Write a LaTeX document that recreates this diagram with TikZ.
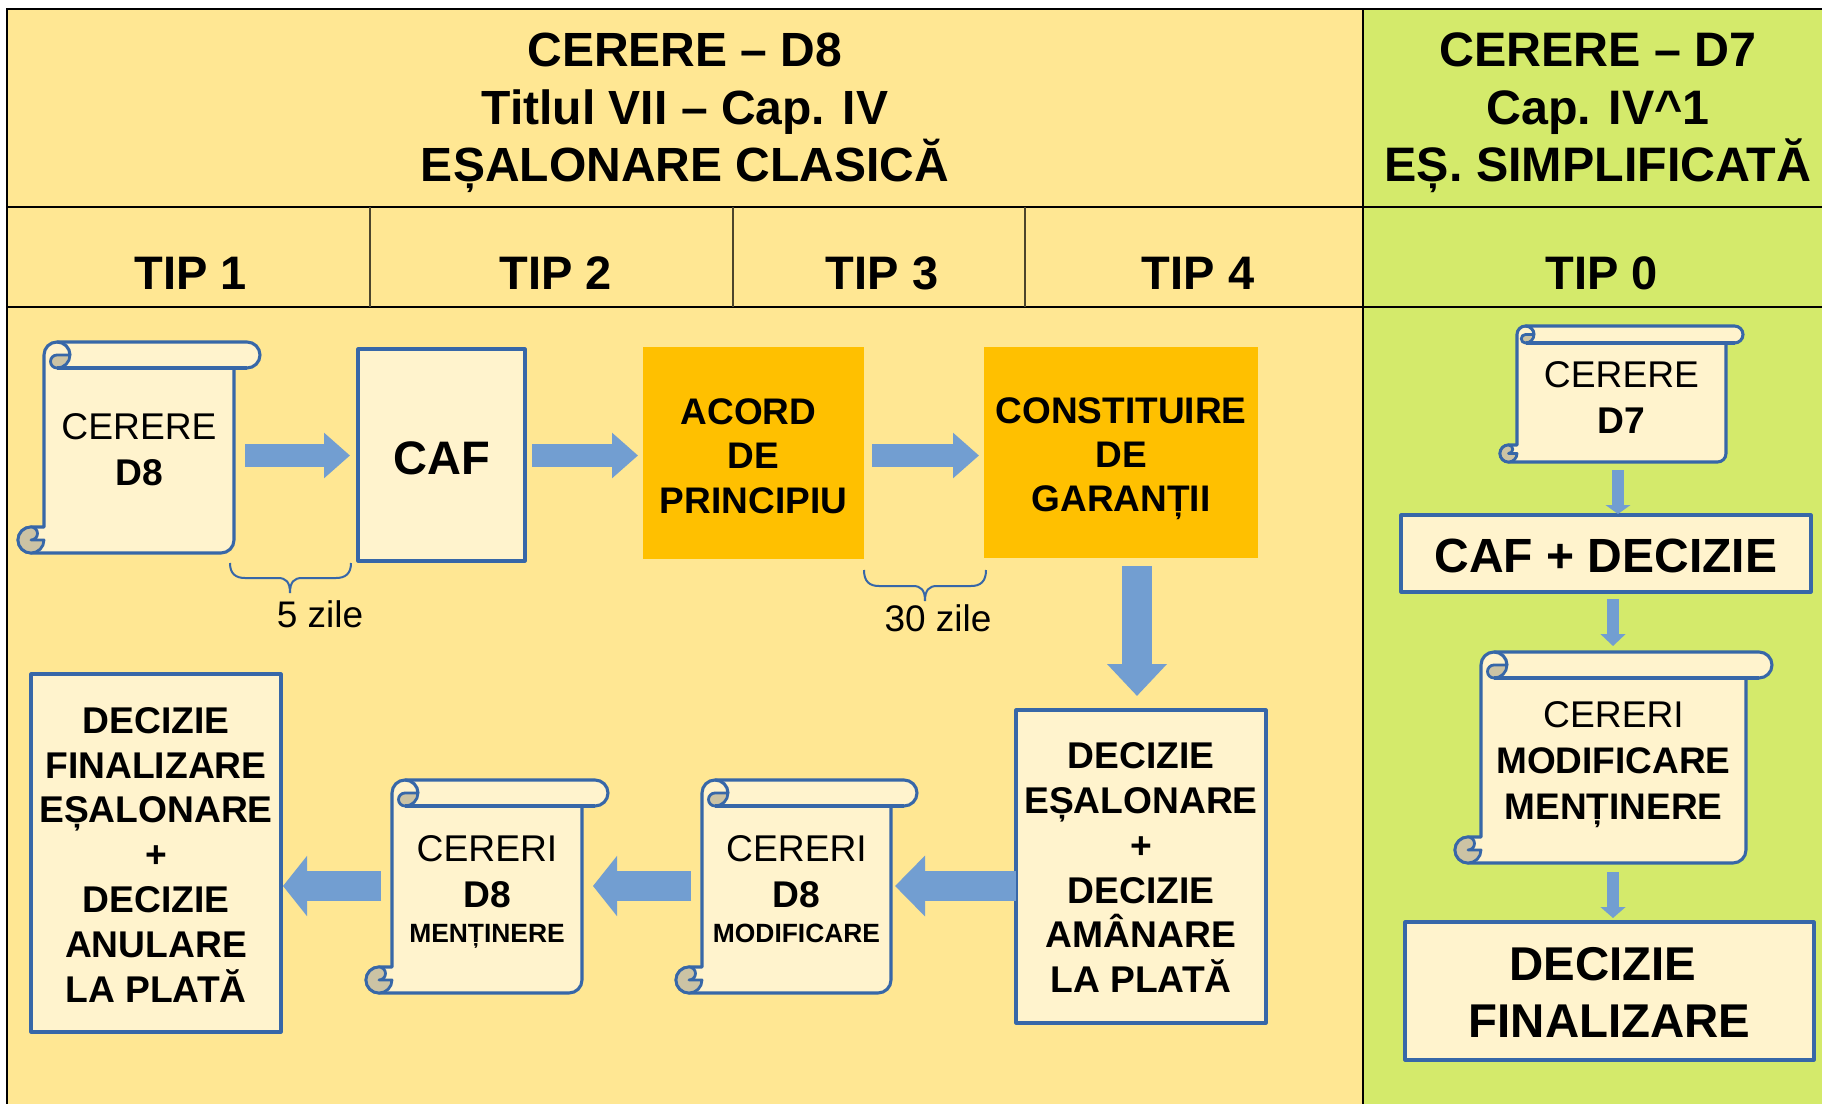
\documentclass[tikz,border=0pt]{standalone}
\usepackage{fontspec}
\setmainfont{Liberation Sans}
\usetikzlibrary{arrows.meta}
\definecolor{yel}{HTML}{FFE793}
\definecolor{grn}{HTML}{D4EA6B}
\definecolor{cream}{HTML}{FFF3CD}
\definecolor{curl}{HTML}{CCC3A4}
\definecolor{boxblue}{HTML}{3767A8}
\definecolor{arrowblue}{HTML}{729ED1}
\definecolor{orng}{HTML}{FFC000}
\tikzset{
  tline/.style={draw=black,line width=.75pt},
  tdiv/.style={draw=black!70!yel,line width=.8pt},
  outl/.style={draw=boxblue,line width=1.55pt,line join=round},
  scrollpart/.style={outl,fill=cream},
  curlpart/.style={outl,line width=1.4pt,fill=curl},
  headtxt/.style={font=\fontsize{24}{28.7}\selectfont\bfseries,align=center,inner sep=0,outer sep=0},
  tiptxt/.style={font=\fontsize{23.5}{29}\selectfont\bfseries,inner sep=0,outer sep=0},
  boxbase/.style={inner sep=0,outer sep=0,align=center,text depth=0pt},
  bluebox/.style={boxbase,outl,fill=cream,font=\fontsize{18.6}{22.4}\selectfont\bfseries},
  orgbox/.style={boxbase,fill=orng,font=\fontsize{18.5}{22.1}\selectfont\bfseries},
  scrolltxt/.style={boxbase,font=\fontsize{18.6}{23}\selectfont},
  zilelabel/.style={font=\fontsize{18.5}{22}\selectfont,inner sep=0},
  brc/.style={draw=boxblue,line width=1pt},
  blockarrow/.style n args={3}{draw=arrowblue,line width=#1,-{Triangle[width=#2,length=#3]}}
}
% extra room above the first line, which moves a centred text down by half of it
\newcommand{\toproom}[1]{\rule{0pt}{\dimexpr.73em+#1\relax}}
\newcommand{\scrollbox}[7]{%
  \pgfmathsetmacro{\sL}{#2}\pgfmathsetmacro{\sT}{#3}\pgfmathsetmacro{\sR}{#4}\pgfmathsetmacro{\sB}{#5}\pgfmathsetmacro{\sr}{#6}%
  \pgfmathsetmacro{\srp}{#6/2}\pgfmathsetmacro{\srq}{#6/4}%
  \path[scrollpart] (\sL,\sT+\sr) arc[start angle=180,end angle=90,radius=\srp pt]
    -- (\sR+\sr,\sT) arc[start angle=90,end angle=-90,radius=\srp pt]
    -- (\sR,\sT+2*\sr) -- (\sR,\sB-\sr) arc[start angle=0,end angle=-90,radius=\srp pt]
    -- (\sL-\sr,\sB) arc[start angle=-90,end angle=-270,radius=\srp pt]
    -- (\sL,\sB-2*\sr) -- cycle;
  \path[curlpart] (\sL-\sr,\sB) arc[start angle=-90,end angle=-270,radius=\srp pt]
    arc[start angle=90,end angle=-90,radius=\srq pt]
    -- (\sL,\sB-\sr) arc[start angle=0,end angle=-90,radius=\srp pt] -- cycle;
  \path[curlpart] (\sL+2*\sr,\sT+\sr) -- (\sL+\sr,\sT+\sr)
    arc[start angle=90,end angle=270,radius=\srq pt]
    arc[start angle=-90,end angle=0,radius=\srp pt] -- cycle;
  \draw[outl] (\sL+\sr,\sT) arc[start angle=90,end angle=0,radius=\srp pt];
  \draw[outl] (\sL+\sr,\sT+2*\sr) -- (\sR+\sr,\sT+2*\sr);
  \pgfmathsetmacro{\sW}{(#4-#2)/2}\pgfmathsetmacro{\sH}{(#5-#3)/2}%
  \node[scrolltxt,minimum width=\sW pt,minimum height=\sH pt] (#1) at ({(#2+#4)/2},{(#3+#5)/2}) {#7};
}
\newcommand{\rectnode}[7]{%
  \pgfmathsetmacro{\sW}{(#4-#2)/2}\pgfmathsetmacro{\sH}{(#5-#3)/2}%
  \node[#6,minimum width=\sW pt,minimum height=\sH pt] (#1) at ({(#2+#4)/2},{(#3+#5)/2}) {#7};
}
\newcommand{\bracepath}[6]{%
  \draw[brc] (#1,#4) .. controls (#1,#5-4) and (#1+6,#5) .. (#1+15,#5) -- (#3-12,#5)
    .. controls (#3-4,#5) and (#3,#5+4) .. (#3,#6)
    .. controls (#3,#5+4) and (#3+4,#5) .. (#3+12,#5) -- (#2-15,#5)
    .. controls (#2-6,#5) and (#2,#5-4) .. (#2,#4);
}
\newcommand{\smallline}[1]{{\fontsize{13.2}{15}\selectfont\bfseries #1}}
\begin{document}
\begin{tikzpicture}[x=.5pt,y=-.5pt]
\useasboundingbox (0,0) rectangle (1822,1104);
% table
\fill[yel] (7,9) rectangle (1363,1104);
\fill[grn] (1363,9) rectangle (1822,1104);
\draw[tline] (1822,9) -- (7,9) -- (7,1104);
\draw[tline] (7,207) -- (1822,207);
\draw[tline] (7,307) -- (1822,307);
\draw[tline] (1363,9) -- (1363,1104);
\draw[tdiv] (370,207) -- (370,307);
\draw[tdiv] (733,207) -- (733,307);
\draw[tdiv] (1025,207) -- (1025,307);
% headers
\node[headtxt] (h8) at (685,113) {CERERE – D8\\Titlul VII – Cap. IV\\EȘALONARE CLASICĂ};
\node[headtxt,font=\fontsize{24.2}{28.7}\selectfont\bfseries] (h7) at (1598,113) {CERERE – D7\\Cap. IV\textasciicircum 1\\EȘ. SIMPLIFICATĂ};
\node[tiptxt] (t1) at (191,273.5) {TIP 1};
\node[tiptxt] (t2) at (555.5,273.5) {TIP 2};
\node[tiptxt] (t3) at (882,273.5) {TIP 3};
\node[tiptxt] (t4) at (1198,273.5) {TIP 4};
\node[tiptxt] (t0) at (1601.5,273.5) {TIP 0};
% top row
\scrollbox{s1}{44}{342}{234}{553}{13}{\toproom{1.7pt}CERERE\\\textbf{D8}}
\rectnode{caf}{358}{349}{525}{561}{bluebox,font=\fontsize{23.5}{28}\selectfont\bfseries}{\toproom{2.3pt}CAF}
\rectnode{acord}{643}{347}{864}{559}{orgbox}{\toproom{2.3pt}ACORD\hspace*{5pt}\\DE\hspace*{5pt}\\PRINCIPIU}
\rectnode{gar}{984}{347}{1258}{558}{orgbox}{\toproom{1.2pt}CONSTITUIRE\\DE\hspace*{6pt}\\GARANȚII}
\bracepath{230}{351}{290}{563}{578}{593}
\bracepath{864}{986}{925}{570}{586}{601}
\node[zilelabel] (z5) at (320,614) {5 zile};
\node[zilelabel] (z30) at (938,618) {30 zile};
% bottom row
\rectnode{dec}{1016}{710}{1266}{1023}{bluebox}{\toproom{.6pt}DECIZIE\\EȘALONARE\\+\\DECIZIE\\AMÂNARE\\LA PLATĂ}
\scrollbox{mod}{702}{780}{891}{993}{13}{\toproom{2.4pt}CERERI\\\textbf{D8}\\[-5.5pt]\smallline{MODIFICARE}}
\scrollbox{ment}{392}{780}{582}{993}{13}{\toproom{2.4pt}CERERI\\\textbf{D8}\\[-5.5pt]\smallline{MENȚINERE}}
\rectnode{fin}{31}{674}{281}{1032}{bluebox}{\toproom{1.2pt}DECIZIE\\FINALIZARE\\EȘALONARE\\+\\DECIZIE\\ANULARE\\LA PLATĂ}
% right column
\scrollbox{s7}{1517}{326}{1726}{462}{8.5}{\toproom{3pt}CERERE\\\textbf{D7}}
\rectnode{cafd}{1401}{515}{1811}{592}{bluebox,font=\fontsize{24}{29}\selectfont\bfseries}{\toproom{1.2pt}CAF + DECIZIE}
\scrollbox{s2}{1481}{652}{1746}{863}{13}{\toproom{2.2pt}CERERI\\{\fontsize{18.5}{22.5}\selectfont\bfseries MODIFICARE}\\{\fontsize{18.5}{22.5}\selectfont\bfseries MENȚINERE}}
\rectnode{find}{1405}{922}{1814}{1060}{bluebox,font=\fontsize{23.7}{28.5}\selectfont\bfseries}{\toproom{.6pt}DECIZIE\hspace*{6.4pt}\\FINALIZARE}
% guides for the arrows
\coordinate (rowa) at (0,455.5);
\coordinate (rowb) at (0,886);
\coordinate (cola) at (1137,0);
\coordinate (colb) at (1618,0);
\coordinate (colc) at (1613,0);
% arrows
\draw[blockarrow={11.5pt}{22pt}{13pt},shorten <=5.5pt,shorten >=4pt] (s1.east|-rowa) -- (caf.west|-rowa);
\draw[blockarrow={11.5pt}{22pt}{13pt},shorten <=3.5pt,shorten >=2.5pt] (caf.east|-rowa) -- (acord.west|-rowa);
\draw[blockarrow={11.5pt}{22pt}{13pt},shorten <=4pt,shorten >=2.5pt] (acord.east|-rowa) -- (gar.west|-rowa);
\draw[blockarrow={15pt}{29pt}{16pt},shorten <=4pt,shorten >=7pt] (gar.south-|cola) -- (dec.north-|cola);
\draw[blockarrow={15pt}{29.5pt}{15pt},shorten >=2pt] (dec.west|-rowb) -- (mod.east|-rowb);
\draw[blockarrow={15pt}{29.5pt}{12pt},shorten <=5.5pt,shorten >=5.5pt] (mod.west|-rowb) -- (ment.east|-rowb);
\draw[blockarrow={15pt}{29.5pt}{12pt},shorten <=5.5pt,shorten >=1pt] (ment.west|-rowb) -- (fin.east|-rowb);
\draw[blockarrow={6.25pt}{12.3pt}{4.5pt},shorten <=4pt,shorten >=.5pt] (s7.south-|colb) -- (cafd.north-|colb);
\draw[blockarrow={6.25pt}{12.3pt}{6pt},shorten <=3.5pt,shorten >=3pt] (cafd.south-|colc) -- (s2.north-|colc);
\draw[blockarrow={6.25pt}{12.3pt}{5.5pt},shorten <=4.5pt,shorten >=2pt] (s2.south-|colc) -- (find.north-|colc);
\end{tikzpicture}
\end{document}
